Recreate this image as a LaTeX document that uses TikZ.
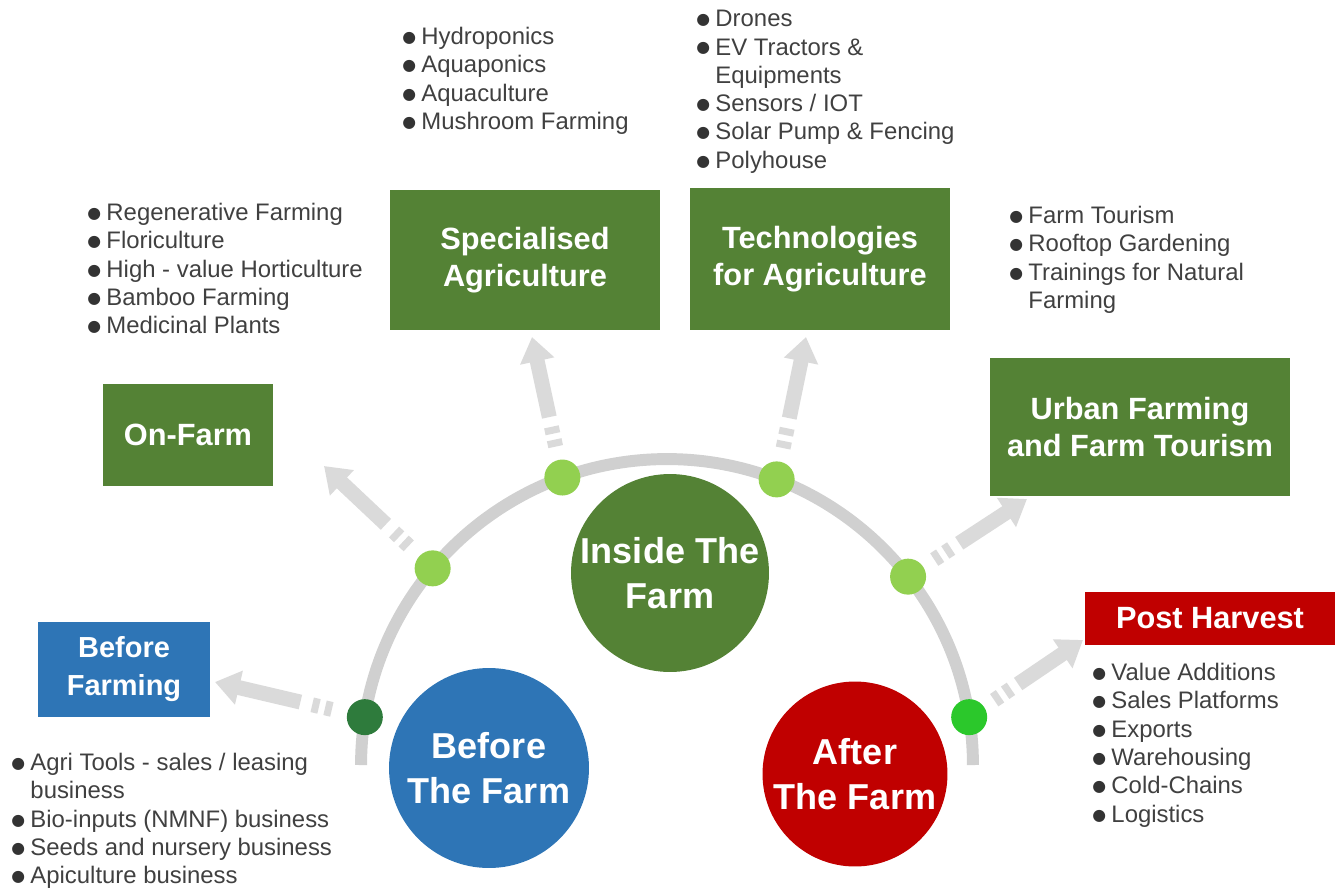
\documentclass[tikz,border=0pt]{standalone}
\usepackage{fontspec}
\setmainfont{Liberation Sans}
\newfontfamily\symfont{DejaVu Sans}
\usetikzlibrary{calc,positioning,arrows.meta,shapes}
\pgfdeclarelayer{background}
\pgfsetlayers{background,main}

\definecolor{farmgreen}{HTML}{548235}
\definecolor{farmblue}{HTML}{2E75B6}
\definecolor{farmred}{HTML}{C00000}
\definecolor{lightdot}{HTML}{92D050}
\definecolor{darkdot}{HTML}{2E7B3C}
\definecolor{brightdot}{HTML}{2BC82B}
\definecolor{trackgray}{HTML}{D0D0D0}
\definecolor{flowgray}{HTML}{DADADA}
\definecolor{listgray}{HTML}{404040}
\definecolor{bulletgray}{HTML}{333333}

\newcommand{\itm}{\makebox[0.8em][l]{\raisebox{1.2pt}{\textcolor{bulletgray}{\symfont\fontsize{9}{9}\selectfont ●}}}}
\newcommand{\itmskip}{\hspace*{0.8em}}

\tikzstyle{block} = [rectangle, fill=farmgreen, text=white, align=center,
    inner sep=0pt, font=\bfseries\fontsize{17.5}{21}\selectfont]
\tikzstyle{stage} = [circle, text=white, align=center, inner sep=0pt,
    font=\bfseries\fontsize{20.5}{26}\selectfont]
\tikzset{
  milestone/.style={circle, minimum size=0.72cm, inner sep=0pt},
  bullets/.style={anchor=north west, align=left, inner sep=0pt,
    text=listgray, font=\fontsize{13.6}{16.1}\selectfont},
  track/.style={draw=trackgray, line width=6.8pt},
  flowline/.style={draw=flowgray, line width=8.5pt,
    -{Triangle[width=19pt,length=14pt]}},
  flowdash/.style={draw=flowgray, line width=8.5pt, dash pattern=on 4pt off 3.5pt},
}

\begin{document}
\begin{tikzpicture}[x=0.02cm, y=-0.02cm]
    \useasboundingbox (0,0) rectangle (1335,890);
    % Place nodes
    \node [block, minimum width=5.4cm, minimum height=2.82cm] (special) at (525,260) {Specialised\\Agriculture};
    \node [block, minimum width=5.2cm, minimum height=2.84cm] (techno) at (820,259) {Technologies\\for Agriculture};
    \node [block, minimum width=6cm, minimum height=2.78cm] (urban) at (1140,427) {Urban Farming\\and Farm Tourism};
    \node [block, minimum width=3.4cm, minimum height=2.04cm] (onfarm) at (188,435) {On-Farm};
    \node [block, fill=farmblue, minimum width=3.44cm, minimum height=1.9cm,
        font=\bfseries\fontsize{16.5}{21.5}\selectfont] (beforefarming) at (124,669) {Before\\Farming};
    \node [block, fill=farmred, minimum width=5cm, minimum height=1.06cm] (postharvest) at (1210,618) {Post Harvest};
    % the three stages
    \node [stage, fill=farmblue, minimum size=4cm] (beforefarm) at (489,768) {Before\\The Farm};
    \node [stage, fill=farmgreen, minimum size=3.96cm] (insidefarm) at (670,573) {Inside The\\Farm};
    \node [stage, fill=farmred, minimum size=3.7cm] (afterfarm) at (855,774) {After\\The Farm};
    % milestones on the track
    \coordinate (hub) at (667,765);
    \node [milestone, fill=darkdot] (d1) at ($(hub)+(171:6.12cm)$) {};
    \node [milestone, fill=lightdot] (d2) at ($(hub)+(140:6.12cm)$) {};
    \node [milestone, fill=lightdot] (d3) at ($(hub)+(110:6.12cm)$) {};
    \node [milestone, fill=lightdot] (d4) at ($(hub)+(69:6.12cm)$) {};
    \node [milestone, fill=lightdot] (d5) at ($(hub)+(38:6.12cm)$) {};
    \node [milestone, fill=brightdot] (d6) at ($(hub)+(9:6.12cm)$) {};
    % arrow tips
    \coordinate (t1) at (215,682);
    \coordinate (t2) at (324,466);
    \coordinate (t3) at (532,337);
    \coordinate (t4) at (806,337);
    \coordinate (t5) at (1027,499);
    \coordinate (t6) at (1083,640);
    % lists
    \node [bullets] (onlist) at (87,203) {\itm Regenerative Farming\\\itm Floriculture\\\itm High - value Horticulture\\\itm Bamboo Farming\\\itm Medicinal Plants};
    \node [bullets] (speclist) at (402,27) {\itm Hydroponics\\\itm Aquaponics\\\itm Aquaculture\\\itm Mushroom Farming};
    \node [bullets] (techlist) at (696,10) {\itm Drones\\\itm EV Tractors \&\\\itmskip Equipments\\\itm Sensors / IOT\\\itm Solar Pump \& Fencing\\\itm Polyhouse};
    \node [bullets] (urbanlist) at (1009,206) {\itm Farm Tourism\\\itm Rooftop Gardening\\\itm Trainings for Natural\\\itmskip Farming};
    \node [bullets] (postlist) at (1092,663) {\itm Value Additions\\\itm Sales Platforms\\\itm Exports\\\itm Warehousing\\\itm Cold-Chains\\\itm Logistics};
    \node [bullets] (beforelist) at (11,753) {\itm Agri Tools - sales / leasing\\\itmskip business\\\itm Bio-inputs (NMNF) business\\\itm Seeds and nursery business\\\itm Apiculture business};
    % Draw edges
    \begin{pgfonlayer}{background}
    \path [track] ($(hub)+(180:6.12cm)$) arc [start angle=180, end angle=0, radius=6.12cm];
    \path [flowdash] ($(d1)!0.22!(t1)$) -- ($(d1)!0.38!(t1)$);
    \path [flowline] ($(d1)!0.43!(t1)$) -- (t1);
    \path [flowdash] ($(d2)!0.22!(t2)$) -- ($(d2)!0.38!(t2)$);
    \path [flowline] ($(d2)!0.43!(t2)$) -- (t2);
    \path [flowdash] ($(d3)!0.22!(t3)$) -- ($(d3)!0.38!(t3)$);
    \path [flowline] ($(d3)!0.43!(t3)$) -- (t3);
    \path [flowdash] ($(d4)!0.22!(t4)$) -- ($(d4)!0.38!(t4)$);
    \path [flowline] ($(d4)!0.43!(t4)$) -- (t4);
    \path [flowdash] ($(d5)!0.22!(t5)$) -- ($(d5)!0.38!(t5)$);
    \path [flowline] ($(d5)!0.43!(t5)$) -- (t5);
    \path [flowdash] ($(d6)!0.22!(t6)$) -- ($(d6)!0.38!(t6)$);
    \path [flowline] ($(d6)!0.43!(t6)$) -- (t6);
    \end{pgfonlayer}
\end{tikzpicture}
\end{document}
